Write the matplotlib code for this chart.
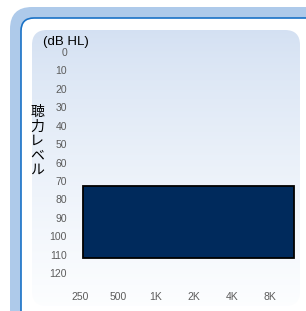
import numpy as np
import matplotlib.pyplot as plt
from matplotlib.patches import FancyBboxPatch

# frequency axis (octave steps) and hearing level axis
freq_labels = ["250", "500", "1K", "2K", "4K", "8K"]
db_ticks = [0, 10, 20, 30, 40, 50, 60, 70, 80, 90, 100, 110, 120]

# shaded range (in octave index units / dB HL)
band_x_start = 0.08
band_x_end = 5.63
band_db_top = 73
band_db_bottom = 112

W, H = 306, 311
fig = plt.figure(figsize=(W / 100, H / 100), dpi=100)

# background frame, drawn in pixel coordinates
bg = fig.add_axes([0, 0, 1, 1])
bg.set_xlim(0, W)
bg.set_ylim(H, 0)
bg.axis("off")

bg.add_patch(FancyBboxPatch((10, 7), 320, 330, boxstyle="round,pad=0,rounding_size=22",
                            fc="#aecaea", ec="none"))
bg.add_patch(FancyBboxPatch((21, 18), 300, 310, boxstyle="round,pad=0,rounding_size=13",
                            fc="white", ec="#1a72c6", lw=1.2))
panel = FancyBboxPatch((32, 30), 268, 276, boxstyle="round,pad=0,rounding_size=15",
                       fc="none", ec="none")
bg.add_patch(panel)
grad = np.linspace(0, 1, 256).reshape(-1, 1)
top = np.array([0.83, 0.88, 0.95])
bot = np.array([0.99, 0.995, 1.0])
img = top + (bot - top) * grad[..., None] ** 0.8
im = bg.imshow(img, extent=(32, 300, 306, 30), aspect="auto", zorder=1)
im.set_clip_path(panel)

# main chart axes: px = 80 + 38*i, py = 52 + 1.842*dB
left_px, right_px, top_px, bot_px = 70, 300, 40, 285
ax = fig.add_axes([left_px / W, 1 - bot_px / H, (right_px - left_px) / W, (bot_px - top_px) / H])
ax.patch.set_alpha(0)
for s in ax.spines.values():
    s.set_visible(False)
ax.set_xlim((left_px - 80) / 38, (right_px - 80) / 38)
ax.set_ylim((bot_px - 52) / 1.842, (top_px - 52) / 1.842)

ax.set_xticks(range(len(freq_labels)))
ax.set_xticklabels(freq_labels)
ax.set_yticks(db_ticks)
ax.set_yticklabels([str(d) for d in db_ticks])
ax.tick_params(length=0, labelsize=7.5, labelcolor="#5c5c5c")
ax.tick_params(axis="y", pad=2.2)
ax.tick_params(axis="x", pad=4.8)
for lab in ax.get_xticklabels() + ax.get_yticklabels():
    lab.set_family("Liberation Sans")

ax.bar(band_x_start, band_db_bottom - band_db_top, width=band_x_end - band_x_start,
       bottom=band_db_top, align="edge", color="#002a5c", edgecolor="black", linewidth=1.3)

bg.text(66, 42, "(dB HL)", ha="center", va="center", fontsize=9.5,
        family="Liberation Sans", color="black", zorder=5)
# vertical label, one character per line
for k, ch in enumerate("聴力レベル"):
    bg.text(37, 112 + 14.5 * k, ch, ha="center", va="center", fontsize=10,
            family=["Noto Sans CJK JP", "DejaVu Sans"], color="black", zorder=5)

fig.savefig("out.png", dpi=100)
